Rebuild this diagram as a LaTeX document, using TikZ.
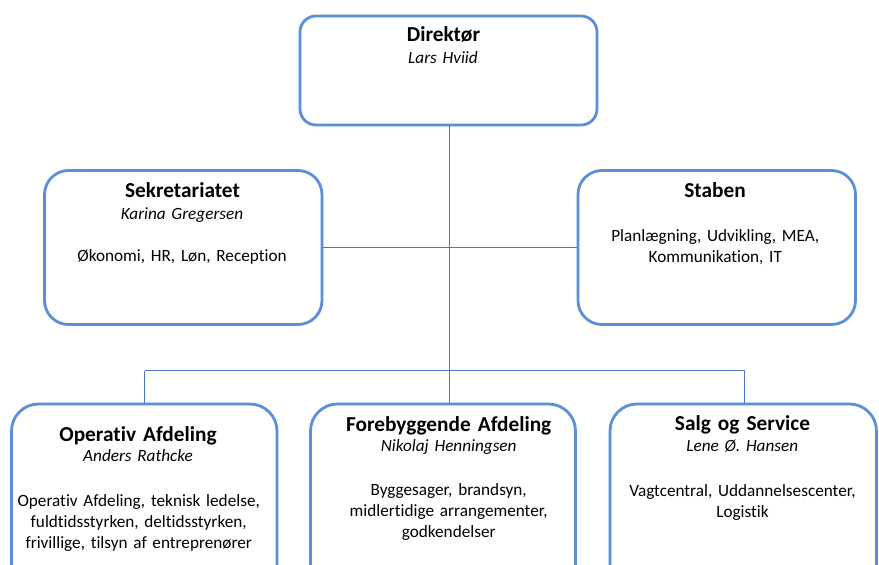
\documentclass[tikz,border=0pt]{standalone}
\usepackage{fontspec}
\setmainfont{Carlito}[Ligatures=NoCommon]
\definecolor{boxblue}{RGB}{91,143,214}
\definecolor{lineblue}{RGB}{72,118,198}
\begin{document}
\begin{tikzpicture}[x=1pt,y=-1pt,
  box/.style={draw=boxblue, line width=2.8pt, fill=white, rectangle, inner sep=0pt},
  conn/.style={draw=lineblue, line width=1.1pt},
  txt/.style={anchor=base, inner sep=0pt, text width=300pt, align=center, font=\fontsize{17.2}{21}\selectfont},
  ttl/.style={txt, font=\fontsize{21.3}{21}\selectfont\bfseries},
  nm/.style={txt, font=\fontsize{17.2}{21}\selectfont\itshape}]
\useasboundingbox (0,0) rectangle (879,565);
\clip (0,0) rectangle (879,565);
\fill[white] (0,0) rectangle (879,565);
% boxes
\node[box, rounded corners=16pt, minimum width=297pt, minimum height=109pt] (dir) at (448.5,70.5) {};
\node[box, rounded corners=24pt, minimum width=277.5pt, minimum height=154pt] (sek) at (183.25,247.5) {};
\node[box, rounded corners=24pt, minimum width=277.5pt, minimum height=154pt] (stab) at (716.75,247.5) {};
\node[box, rounded corners=27pt, minimum width=265.5pt, minimum height=190pt] (op) at (144.25,499) {};
\node[box, rounded corners=27pt, minimum width=265pt, minimum height=190pt] (fore) at (443,499) {};
\node[box, rounded corners=27pt, minimum width=266.5pt, minimum height=190pt] (salg) at (743.25,499) {};
% junctions
\coordinate (jc) at (449.5,370.5);
\coordinate (jl) at (144.5,370.5);
\coordinate (jr) at (744.5,370.5);
\coordinate (jf) at (449.5,404);
% connectors
\draw[conn] (dir.south -| jc) -- (jc);
\draw[conn] (sek.east) -- (stab.west);
\draw[conn] (jl) -- (jr);
\draw[conn] (jl) -- (jl |- op.north);
\draw[conn] (jc) -- (jf);
\draw[conn] (jr) -- (jr |- salg.north);
% texts
\node[ttl] (dirt) at (443.5,41.7) {Direktør};
\node[nm] (dirn) at (443,63.3) {Lars Hviid};
\node[ttl] (sekt) at (182.5,197.7) {Sekretariatet};
\node[nm] (sekn) at (182,219) {Karina Gregersen};
\node[txt] (sekb) at (182,261.7) {Økonomi, HR, Løn, Reception};
\node[ttl] (stabt) at (715,197.3) {Staben};
\node[txt] (stabb) at (715.3,241) {Planlægning, Udvikling, MEA,\\Kommunikation, IT};
\node[ttl] (opt) at (138,441.7) {Operativ Afdeling};
\node[nm] (opn) at (138,461.7) {Anders Rathcke};
\node[txt] (opb) at (138.7,506.7) {Operativ Afdeling, teknisk ledelse,\\fuldtidsstyrken, deltidsstyrken,\\frivillige, tilsyn af entreprenører};
\node[ttl] (foret) at (448.7,431) {Forebyggende Afdeling};
\node[nm] (foren) at (448.7,451.7) {Nikolaj Henningsen};
\node[txt] (foreb) at (448.7,495) {Byggesager, brandsyn,\\midlertidige arrangementer,\\godkendelser};
\node[ttl] (salgt) at (742.5,430) {Salg og Service};
\node[nm] (salgn) at (742.3,451.7) {Lene Ø. Hansen};
\node[txt] (salgb) at (742.5,496.7) {Vagtcentral, Uddannelsescenter,\hspace*{8pt}\\Logistik};
\end{tikzpicture}
\end{document}
